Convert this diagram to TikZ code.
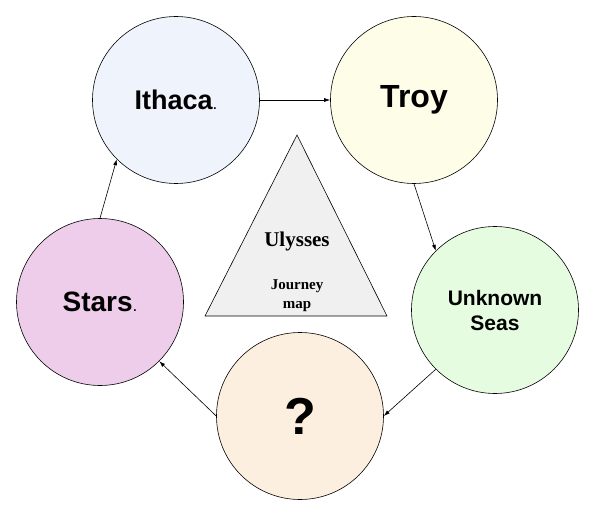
\documentclass[tikz,border=0pt]{standalone}
\usepackage{fontspec}
\setmainfont{Liberation Serif}
\setsansfont{Liberation Sans}
\usetikzlibrary{arrows.meta}

\definecolor{ithacablue}{RGB}{238,243,252}
\definecolor{troyyellow}{RGB}{254,253,231}
\definecolor{seasgreen}{RGB}{229,252,225}
\definecolor{unknownpeach}{RGB}{253,239,224}
\definecolor{starspink}{RGB}{238,205,235}
\definecolor{mapgray}{RGB}{240,240,240}

\begin{document}
\begin{tikzpicture}[x=1pt, y=-1pt,
    place/.style={draw, circle, minimum size=167pt, inner sep=0pt, line width=0.6pt, align=center,
        font=\sffamily\bfseries\fontsize{#1}{25}\selectfont},
    route/.style={-{Latex[length=6pt,width=4pt]}, line width=0.6pt}]
    \useasboundingbox (0,0) rectangle (595,516);

    % Places
    \node[place=27, fill=ithacablue] (ithaca) at (176,100) {Ithaca{\mdseries\fontsize{17}{20}\selectfont .}};
    \node[place=32, fill=troyyellow] (troy) at (414,100) {Troy};
    \node[place=21, fill=seasgreen] (seas) at (495,310) {Unknown\\Seas};
    \node[place=52, fill=unknownpeach] (qmark) at (300,416) {?};
    \node[place=28, fill=starspink] (stars) at (100,302) {Stars{\mdseries\fontsize{17}{20}\selectfont .}};

    % Map in the middle
    \draw[fill=mapgray, line width=0.6pt] (297,135) -- (387,316) -- (205,316) -- cycle;
    \node[font=\bfseries\fontsize{21}{24}\selectfont] (ulysses) at (297,241) {Ulysses};
    \node[font=\bfseries\fontsize{15}{19}\selectfont, align=center] (journey) at (297,296) {Journey\\map};

    % Route
    \draw[route] (ithaca) -- (troy);
    \draw[route] (troy.south) -- (seas.135);
    \draw[route] (seas.225) -- (qmark.east);
    \draw[route] (qmark.west) -- (stars.-45);
    \draw[route] (stars.north) -- (ithaca.225);

\end{tikzpicture}
\end{document}
